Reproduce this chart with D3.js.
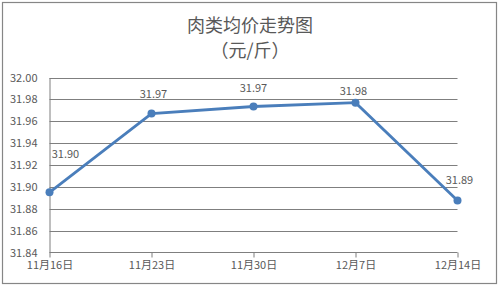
<!DOCTYPE html>
<html>
<head>
<meta charset="utf-8">
<script src="https://cdn.jsdelivr.net/npm/d3@7"></script>
<style>
  body { margin: 0; background: #fff; }
  text { font-family: "Noto Sans CJK SC", "Liberation Sans", sans-serif; fill: #595959; }
</style>
</head>
<body>
<svg></svg>
<script>
// data
var categories = ["11月16日", "11月23日", "11月30日", "12月7日", "12月14日"];
var prices = [31.895, 31.967, 31.9735, 31.977, 31.8875];
var priceLabels = ["31.90", "31.97", "31.97", "31.98", "31.89"];
var yTicks = [31.84, 31.86, 31.88, 31.90, 31.92, 31.94, 31.96, 31.98, 32.00];

// hand placed label offsets (x, y) from each point
var labelDx = [16, 2, 0, -2, 2];
var labelDy = [-38, -20, -18, -12, -21];

var svgWidth = 500, svgHeight = 287;
var svg = d3.select("svg")
    .attr("width", svgWidth)
    .attr("height", svgHeight);

// outer frame
svg.append("rect")
    .attr("x", 2.5).attr("y", 2.5)
    .attr("width", 494).attr("height", 281)
    .attr("fill", "#fff")
    .attr("stroke", "#868686")
    .attr("stroke-width", 1.2);

// title
svg.append("text")
    .attr("x", 250).attr("y", 32)
    .attr("text-anchor", "middle")
    .style("font-size", "18px")
    .text("肉类均价走势图");
svg.append("text")
    .attr("x", 250).attr("y", 57)
    .attr("text-anchor", "middle")
    .style("font-size", "18px")
    .text("（元/斤）");

// plot area edges
var plotLeft = 49.5, plotRight = 457.5, plotTop = 77.5, plotBottom = 252.5;

var xScale = d3.scalePoint()
    .domain(categories)
    .range([plotLeft, plotRight]);

var yScale = d3.scaleLinear()
    .domain([31.84, 32.00])
    .range([plotBottom, plotTop]);

// gridlines
svg.append("g")
    .selectAll("line")
    .data(yTicks.slice(1))
    .enter().append("line")
    .attr("x1", plotLeft).attr("x2", plotRight)
    .attr("y1", function(d) { return Math.round(yScale(d)) + 0.5; })
    .attr("y2", function(d) { return Math.round(yScale(d)) + 0.5; })
    .attr("stroke", "#7f7f7f")
    .attr("stroke-width", 1);

// y axis
var y_axis = d3.axisLeft(yScale)
    .tickValues(yTicks)
    .tickFormat(d3.format(".2f"))
    .tickSize(0)
    .tickPadding(12);

var gy = svg.append("g")
    .attr("transform", "translate(" + plotLeft + ",0)")
    .call(y_axis);
gy.select(".domain").attr("stroke", "#7f7f7f");
gy.selectAll("text").style("font-size", "11px").attr("fill", "#595959");

// x axis
var x_axis = d3.axisBottom(xScale)
    .tickSize(5)
    .tickPadding(4);

var gx = svg.append("g")
    .attr("transform", "translate(0," + plotBottom + ")")
    .call(x_axis);
gx.select(".domain").attr("stroke", "#7f7f7f").attr("d", "M" + plotLeft + ",0H" + plotRight);
gx.selectAll(".tick line").attr("stroke", "#7f7f7f");
gx.selectAll("text").style("font-size", "11px").attr("fill", "#595959");

// line
var line = d3.line()
    .x(function(d, i) { return xScale(categories[i]); })
    .y(function(d) { return yScale(d); });

svg.append("path")
    .datum(prices)
    .attr("d", line)
    .attr("fill", "none")
    .attr("stroke", "#4a7ebb")
    .attr("stroke-width", 2.8);

svg.append("g")
    .selectAll("circle")
    .data(prices)
    .enter().append("circle")
    .attr("cx", function(d, i) { return xScale(categories[i]); })
    .attr("cy", function(d) { return yScale(d); })
    .attr("r", 4)
    .attr("fill", "#4a7ebb");

// value labels
svg.append("g")
    .selectAll("text")
    .data(prices)
    .enter().append("text")
    .attr("x", function(d, i) { return xScale(categories[i]) + labelDx[i]; })
    .attr("y", function(d, i) { return yScale(d) + labelDy[i] + 4; })
    .attr("text-anchor", "middle")
    .style("font-size", "11px")
    .text(function(d, i) { return priceLabels[i]; });
</script>
</body>
</html>
